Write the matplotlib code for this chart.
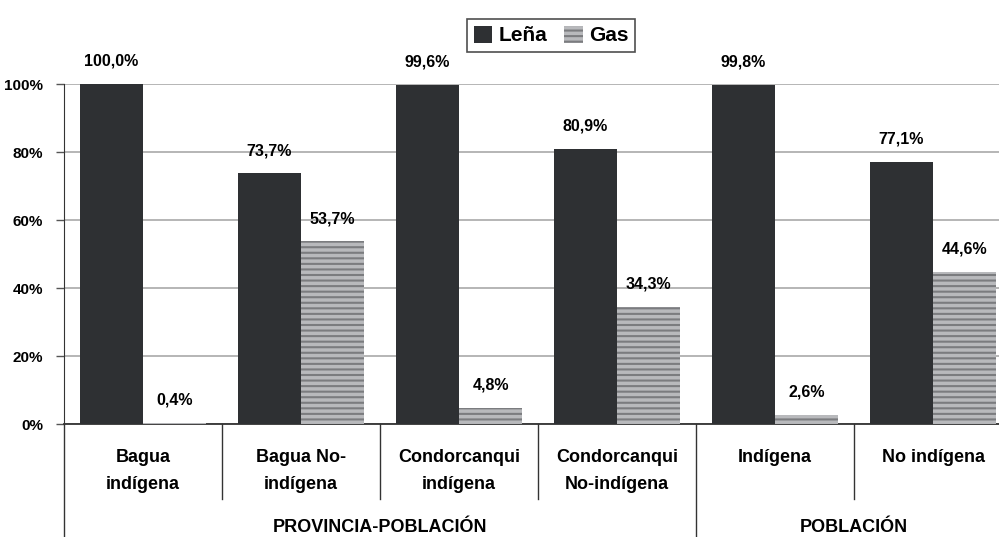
import numpy as np
import matplotlib
matplotlib.use('Agg')
import matplotlib.pyplot as plt
from matplotlib.patches import Patch
from matplotlib.transforms import blended_transform_factory

categories = ['Bagua\nindígena', 'Bagua No-\nindígena', 'Condorcanqui\nindígena',
              'Condorcanqui\nNo-indígena', 'Indígena', 'No indígena']
lena = [100.0, 73.7, 99.6, 80.9, 99.8, 77.1]
gas = [0.4, 53.7, 4.8, 34.3, 2.6, 44.6]
groups = ['PROVINCIA-POBLACIÓN', 'POBLACIÓN']
group_spans = [(0, 3), (4, 5)]
yticks = [0, 20, 40, 60, 80, 100]

plt.rcParams['font.family'] = ['Liberation Sans', 'DejaVu Sans']
plt.rcParams['font.weight'] = 'bold'
plt.rcParams['hatch.linewidth'] = 1.5

LENA_COLOR = '#2e3033'
GAS_FACE = '#b8b9bc'
GAS_STRIPE = '#7b7c7f'

fig = plt.figure(figsize=(9.99, 5.37), dpi=100)
ax = fig.add_axes([64 / 999, 113 / 537, 948 / 999, 340 / 537])

x = np.arange(len(categories))
w = 0.4
ax.bar(x - w / 2, lena, w, color=LENA_COLOR, zorder=3)
ax.bar(x + w / 2, gas, w, facecolor=GAS_FACE, edgecolor=GAS_STRIPE,
       linewidth=0, hatch='---', zorder=3)

ax.set_xlim(-0.5, 5.5)
ax.set_ylim(0, 100)
ax.set_yticks(yticks)
ax.set_yticklabels([f'{t}%' for t in yticks], fontsize=11)
ax.tick_params(axis='y', length=6, width=1, color='#555555', pad=9)
ax.set_xticks([])
ax.grid(axis='y', color='#b5b5b5', linewidth=1.4, zorder=0)
ax.set_axisbelow(True)
for s in ['top', 'right']:
    ax.spines[s].set_visible(False)
ax.spines['left'].set_color('#333333')
ax.spines['bottom'].set_color('#333333')
ax.spines['bottom'].set_linewidth(1.3)


def fmt(v):
    return f'{v:.1f}%'.replace('.', ',')


for xi, v in zip(x, lena):
    ax.annotate(fmt(v), (xi - w / 2, v), xytext=(0, 16.5), textcoords='offset points',
                ha='center', va='center', fontsize=11.5)
for xi, v in zip(x, gas):
    ax.annotate(fmt(v), (xi + w / 2, v), xytext=(0, 16.5), textcoords='offset points',
                ha='center', va='center', fontsize=11.5)

# category axis: separators and labels
tr = blended_transform_factory(ax.transData, ax.transAxes)
bottom = -113 / 340
short = -75 / 340
ax.plot([-0.5, -0.5], [0, bottom], transform=tr, color='#333333', lw=1, clip_on=False)
for b in [0.5, 1.5, 2.5, 4.5]:
    ax.plot([b, b], [0, short], transform=tr, color='#333333', lw=1, clip_on=False)
ax.plot([3.5, 3.5], [0, bottom], transform=tr, color='#333333', lw=1, clip_on=False)

for xi, c in zip(x, categories):
    ax.text(xi, -25 / 340, c, transform=tr, ha='center', va='top', fontsize=13,
            linespacing=1.75)

for g, (a, b) in zip(groups, group_spans):
    ax.text((a + b) / 2, -103 / 340, g, transform=tr, ha='center', va='center',
            fontsize=13)

handles = [Patch(facecolor=LENA_COLOR, label='Leña'),
           Patch(facecolor=GAS_FACE, edgecolor=GAS_STRIPE, linewidth=0, hatch='---', label='Gas')]
leg = fig.legend(handles=handles, loc='upper center', bbox_to_anchor=(551 / 999, 1 - 9 / 537),
                 ncol=2, frameon=True, fancybox=False, edgecolor='#222222',
                 prop={'size': 15, 'weight': 'bold'}, handlelength=0.9, handleheight=0.9,
                 handletextpad=0.3, columnspacing=0.8, borderpad=0.3)
leg.get_frame().set_linewidth(1.2)

fig.savefig('out.png', dpi=100)
